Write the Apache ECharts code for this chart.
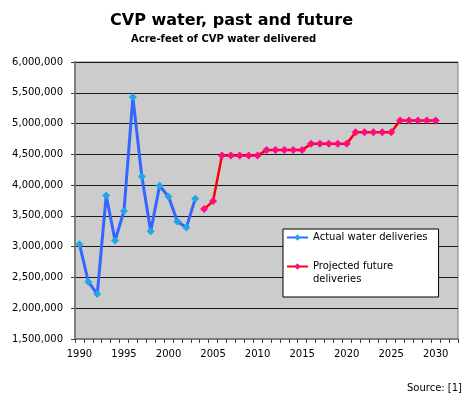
<!DOCTYPE html>
<html>
<head>
<meta charset="utf-8">
<script src="https://cdn.jsdelivr.net/npm/echarts@6/dist/echarts.min.js"></script>
<style>
html,body{margin:0;padding:0;background:#fff;}
#chart{width:470px;height:400px;}
</style>
</head>
<body>
<div id="chart"></div>
<script>
var years = ['1990','1991','1992','1993','1994','1995','1996','1997','1998','1999','2000','2001','2002','2003','2004','2005','2006','2007','2008','2009','2010','2011','2012','2013','2014','2015','2016','2017','2018','2019','2020','2021','2022','2023','2024','2025','2026','2027','2028','2029','2030','2031','2032'];
var actualYears = ['1990','1991','1992','1993','1994','1995','1996','1997','1998','1999','2000','2001','2002','2003'];
var actualValues = [3040000, 2430000, 2230000, 3830000, 3100000, 3580000, 5430000, 4140000, 3250000, 3990000, 3810000, 3410000, 3310000, 3780000];
var projectedYears = ['2004','2005','2006','2007','2008','2009','2010','2011','2012','2013','2014','2015','2016','2017','2018','2019','2020','2021','2022','2023','2024','2025','2026','2027','2028','2029','2030'];
var projectedValues = [3610000, 3740000, 4480000, 4480000, 4480000, 4480000, 4480000, 4570000, 4570000, 4570000, 4570000, 4570000, 4670000, 4670000, 4670000, 4670000, 4670000, 4860000, 4860000, 4860000, 4860000, 4860000, 5050000, 5050000, 5050000, 5050000, 5050000];
var seriesNames = ['Actual water deliveries', 'Projected future\ndeliveries'];
var titleText = 'CVP water, past and future';
var subtitleText = 'Acre-feet of CVP water delivered';
var sourceText = 'Source: [1]';

function align(cats, vals) {
  return years.map(function (y) {
    var i = cats.indexOf(y);
    return i >= 0 ? vals[i] : null;
  });
}
function fmt(v) { return String(v).replace(/\B(?=(\d{3})+(?!\d))/g, ','); }

var FONT = 'DejaVu Sans';
var chart = echarts.init(document.getElementById('chart'), null, {renderer: 'canvas'});
chart.setOption({
  animation: false,
  backgroundColor: '#ffffff',
  textStyle: {fontFamily: FONT},
  title: [
    {text: titleText, left: 110, top: 13, padding: 0,
     textStyle: {fontFamily: FONT, fontSize: 16, fontWeight: 'bold', color: '#000'}},
    {text: subtitleText, left: 131, top: 34, padding: 0,
     textStyle: {fontFamily: FONT, fontSize: 10, fontWeight: 'bold', color: '#000'}},
    {text: sourceText, right: 8, top: 383, padding: 0,
     textStyle: {fontFamily: FONT, fontSize: 10, fontWeight: 'normal', color: '#000'}}
  ],
  grid: {left: 75, right: 12, top: 62, bottom: 61, show: true,
         backgroundColor: '#CCCCCC', borderColor: '#808080', borderWidth: 1},
  legend: {
    orient: 'vertical', left: 283, top: 229,
    padding: [2, 11, 11, 3],
    itemWidth: 21, itemHeight: 8, itemGap: 3,
    backgroundColor: '#ffffff', borderColor: '#000000', borderWidth: 1, borderRadius: 0,
    textStyle: {fontFamily: FONT, fontSize: 10, color: '#000', lineHeight: 13},
    formatter: function (name) { return name === seriesNames[1] ? '\n' + name : name; },
    data: [seriesNames[0], seriesNames[1]]
  },
  xAxis: {
    type: 'category', data: years, boundaryGap: true,
    axisLine: {show: true, lineStyle: {color: '#808080', width: 2}},
    axisTick: {show: true, inside: false, length: 4, interval: 0, alignWithLabel: false,
               lineStyle: {color: '#404040', width: 1}},
    axisLabel: {interval: function (i) { return i % 5 === 0; }, margin: 10,
                fontFamily: FONT, fontSize: 10, color: '#000'},
    splitLine: {show: false}
  },
  yAxis: {
    type: 'value', min: 1500000, max: 6000000, interval: 500000,
    axisLine: {show: true, lineStyle: {color: '#808080', width: 2}},
    axisTick: {show: true, inside: false, length: 4, lineStyle: {color: '#404040', width: 1}},
    axisLabel: {formatter: fmt, margin: 12, fontFamily: FONT, fontSize: 10, color: '#000'},
    splitLine: {show: true, lineStyle: {color: '#1a1a1a', width: 1}}
  },
  series: [
    {
      name: seriesNames[0], type: 'line', data: align(actualYears, actualValues),
      symbol: 'diamond', symbolSize: 8, showAllSymbol: true, connectNulls: false,
      lineStyle: {color: '#3366FF', width: 3},
      itemStyle: {color: '#1CA8E6'},
      z: 3
    },
    {
      name: seriesNames[1], type: 'line', data: align(projectedYears, projectedValues),
      symbol: 'diamond', symbolSize: 8, showAllSymbol: true, connectNulls: false,
      lineStyle: {color: '#FF0000', width: 2.5},
      itemStyle: {color: '#FF0A84'},
      z: 3
    }
  ]
});
</script>
</body>
</html>
